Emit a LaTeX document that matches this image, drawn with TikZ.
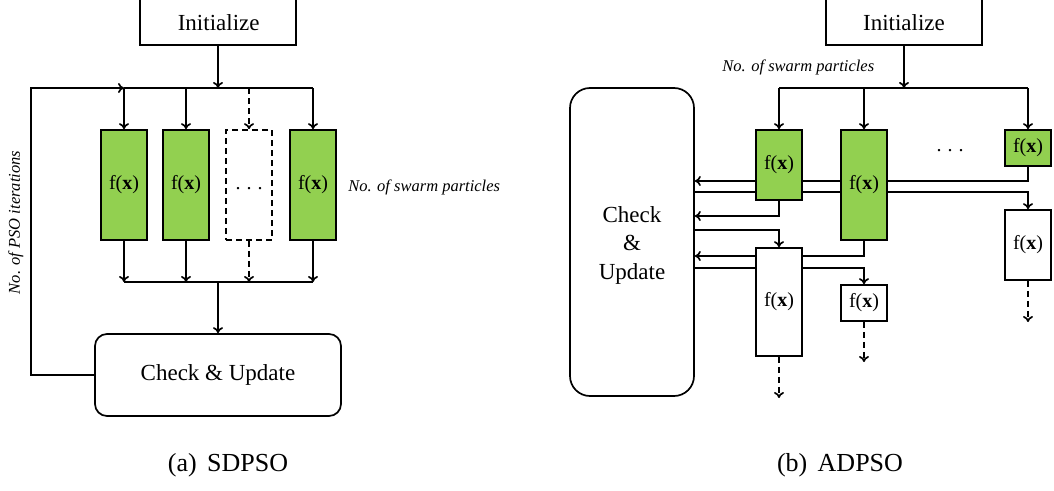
\documentclass[tikz,border=0pt]{standalone}
\usepackage{fontspec}
\setmainfont{Liberation Serif}
\usetikzlibrary{arrows.meta}
\pgfdeclarelayer{bg}
\pgfsetlayers{bg,main}
\definecolor{fgreen}{RGB}{146,208,80}
\begin{document}
\begin{tikzpicture}[x=1pt,y=-1pt,line width=1.7pt,
  box/.style={draw,line width=1.7pt,minimum width=46pt,inner sep=0pt,font=\fontsize{20}{24}\selectfont},
  gbox/.style={box,fill=fgreen},
  wbox/.style={box,fill=white},
  dbox/.style={box,dashed,dash pattern=on 6pt off 4pt},
  conn/.style={line width=1.7pt},
  arr/.style={conn,-{To[length=6pt,width=10pt]}},
  darr/.style={arr,dash pattern=on 6pt off 4pt},
  initbox/.style={draw,line width=1.7pt,minimum width=156pt,minimum height=60pt,inner sep=0pt},
  big/.style={font=\fontsize{23}{28.5}\selectfont},
  lbl/.style={font=\itshape\fontsize{16.5}{19}\selectfont,inner sep=0pt},
  captxt/.style={font=\fontsize{26}{30}\selectfont,inner sep=0pt},
  cu/.style={draw,line width=1.7pt,fill=white,inner sep=0pt,align=center,big}]
\useasboundingbox (0,0) rectangle (1054,490);
\begin{scope}[shift={(-0.5,-0.5)}]
% ---------------- (a) SDPSO ----------------
\node[initbox] (initL) at (218.5,15.5) {};
\node[big] (initLt) at (219.2,23.5) {Initialize};
\coordinate (busL) at (0,88.5);
\coordinate (busL2) at (0,282.5);
\coordinate (loopx) at (31.5,88.5);

\node[gbox,minimum height=110pt] (g1) at (124.5,185.5) {f(\textbf{x})};
\node[gbox,minimum height=110pt] (g2) at (186.5,185.5) {f(\textbf{x})};
\node[dbox,minimum height=110pt] (gd) at (249.5,185.5) {\vphantom{f(x)}.\kern.3em.\kern.3em.};
\node[gbox,minimum height=110pt] (g4) at (313.5,185.5) {f(\textbf{x})};

\node[cu,minimum width=246pt,minimum height=82pt,rounded corners=12pt] (CUL) at (218.5,375.5) {Check \& Update};

\node[lbl,anchor=west] (swL) at (348,187.5) {No. of swarm particles};
\node[lbl,rotate=90] (itL) at (16.2,223) {No. of PSO iterations};

\begin{pgfonlayer}{bg}
\begin{scope}[conn]
\draw[arr] (initL.south) -- (initL.south |- busL);
\draw (g1.north |- busL) -- (g4.north |- busL);
\draw[arr] (g1.north |- busL) -- (g1.north);
\draw[arr] (g2.north |- busL) -- (g2.north);
\draw[darr] (gd.north |- busL) -- (gd.north);
\draw[arr] (g4.north |- busL) -- (g4.north);
\draw[arr] (g1.south) -- (g1.south |- busL2);
\draw[arr] (g2.south) -- (g2.south |- busL2);
\draw[darr] (gd.south) -- (gd.south |- busL2);
\draw[arr] (g4.south) -- (g4.south |- busL2);
\draw (g1.south |- busL2) -- (g4.south |- busL2);
\draw[arr] (CUL.north |- busL2) -- (CUL.north);
\draw[arr] (CUL.west) -| (loopx) -- (g1.north |- loopx);
\end{scope}
\end{pgfonlayer}

% ---------------- (b) ADPSO ----------------
\node[initbox] (initR) at (904.5,15.5) {};
\node[big] (initRt) at (904.5,23.5) {Initialize};
\coordinate (busR) at (0,88.5);

\node[cu,minimum width=124pt,minimum height=308pt,rounded corners=20pt] (CUR) at (632.5,242.5) {};
\node[big,align=center] (CURt) at (632.5,245.5) {Check\\\&\\Update};

\node[gbox,minimum height=70pt] (A) at (779.5,165.5) {f(\textbf{x})};
\node[gbox,minimum height=110pt] (B) at (864.5,185.5) {f(\textbf{x})};
\node[gbox,minimum height=36pt] (C) at (1028.5,148.5) {f(\textbf{x})};
\node[wbox,minimum height=70pt] (D) at (1028.5,245.5) {f(\textbf{x})};
\node[wbox,minimum height=108pt] (E) at (779.5,302.5) {f(\textbf{x})};
\node[wbox,minimum height=36pt] (F) at (864.5,303.5) {f(\textbf{x})};
\node[font=\fontsize{20}{24}\selectfont,inner sep=0pt] (dotsR) at (950.5,151.2) {.\kern.3em.\kern.3em.};

\node[lbl] (swR) at (798.8,68.2) {No. of swarm particles};

\coordinate (y1) at (0,181.5);
\coordinate (y2) at (0,192.5);
\coordinate (y3) at (0,216.5);
\coordinate (y4) at (0,230.5);
\coordinate (y5) at (0,256.5);
\coordinate (y6) at (0,268.5);
\coordinate (eEnd) at (779.5,398.5);
\coordinate (fEnd) at (864.5,362.5);
\coordinate (dEnd) at (1028.5,322.5);

\begin{pgfonlayer}{bg}
\begin{scope}[conn]
\draw[arr] (initR.south) -- (initR.south |- busR);
\draw (A.north |- busR) -- (C.north |- busR);
\draw[arr] (A.north |- busR) -- (A.north);
\draw[arr] (B.north |- busR) -- (B.north);
\draw[arr] (C.north |- busR) -- (C.north);
\draw[arr] (C.south) |- (CUR.east |- y1);
\draw[arr] (CUR.east |- y2) -| (D.north);
\draw[arr] (A.south) |- (CUR.east |- y3);
\draw[arr] (CUR.east |- y4) -| (E.north);
\draw[arr] (B.south) |- (CUR.east |- y5);
\draw[arr] (CUR.east |- y6) -| (F.north);
\draw[darr] (E.south) -- (eEnd);
\draw[darr] (F.south) -- (fEnd);
\draw[darr] (D.south) -- (dEnd);
\end{scope}
\end{pgfonlayer}

% captions
\node[captxt] (capA) at (228.5,465.5) {(a)\hspace{0.4em}SDPSO};
\node[captxt] (capB) at (840.5,465.5) {(b)\hspace{0.4em}ADPSO};
\end{scope}
\end{tikzpicture}
\end{document}
